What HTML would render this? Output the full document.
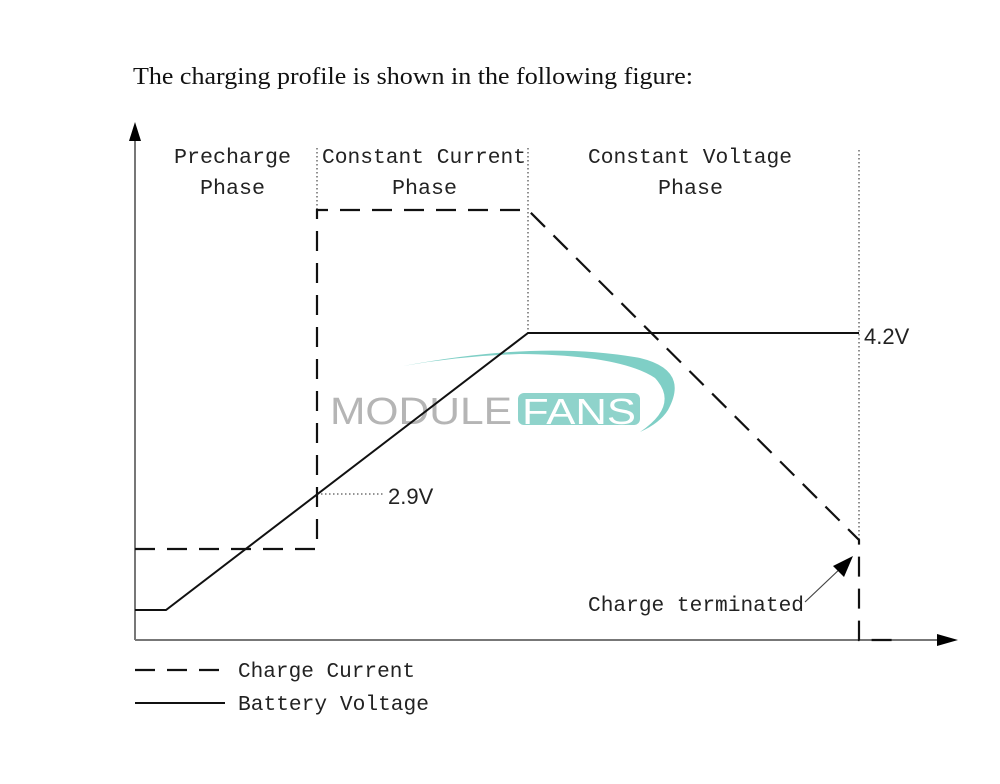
<!DOCTYPE html>
<html><head><meta charset="utf-8"><style>
html,body{margin:0;padding:0;background:#fff;}
svg{display:block;}
.m{font-family:"Liberation Mono",monospace;font-size:21px;fill:#222;}
.s{font-family:"Liberation Sans",sans-serif;font-size:22px;fill:#222;}
</style></head><body>
<svg width="1000" height="784" viewBox="0 0 1000 784" xmlns="http://www.w3.org/2000/svg">
<text x="133" y="84" font-family="Liberation Serif,serif" font-size="24" fill="#111" textLength="560" lengthAdjust="spacingAndGlyphs">The charging profile is shown in the following figure:</text>
<!-- axes -->
<line x1="135" y1="640" x2="135" y2="138" stroke="#777" stroke-width="2"/>
<polygon points="135,122 129,141 141,141" fill="#000"/>
<line x1="135" y1="640" x2="940" y2="640" stroke="#777" stroke-width="2"/>
<polygon points="958,640 937,634 937,646" fill="#000"/>
<!-- dotted verticals -->
<g stroke="#555" stroke-width="1.3" stroke-dasharray="1.5,2.5">
<line x1="317" y1="148" x2="317" y2="210"/>
<line x1="528" y1="148" x2="528" y2="333"/>
<line x1="859" y1="150" x2="859" y2="545"/>
<line x1="317" y1="494" x2="383" y2="494"/>
</g>
<!-- watermark -->
<path d="M403,366 Q540,340 640,358 Q690,370 668,410 Q660,423 640,432 Q680,405 655,378 Q620,355 520,354 Q460,356 403,366Z" fill="#7fcfc6"/>
<rect x="518" y="393" width="122" height="32" rx="6" fill="#8fd3cb"/>
<text x="330" y="424" font-family="Liberation Sans,sans-serif" font-size="38" fill="#b5b5b5" textLength="182" lengthAdjust="spacingAndGlyphs">MODULE</text>
<text x="522" y="424" font-family="Liberation Sans,sans-serif" font-size="36" fill="#fff" textLength="114" lengthAdjust="spacingAndGlyphs">FANS</text>
<!-- charge current -->
<path d="M135,549 L317,549 L317,210 L528,210 L859,540 L859,640 L900,640" fill="none" stroke="#111" stroke-width="2.2" stroke-dasharray="20,12"/>
<!-- battery voltage -->
<path d="M135,610 L166,610 L528,333 L859,333" fill="none" stroke="#111" stroke-width="2"/>
<!-- labels -->
<text class="m" x="174" y="163" textLength="117" lengthAdjust="spacingAndGlyphs">Precharge</text>
<text class="m" x="200" y="194" textLength="65" lengthAdjust="spacingAndGlyphs">Phase</text>
<text class="m" x="322" y="163" textLength="204" lengthAdjust="spacingAndGlyphs">Constant Current</text>
<text class="m" x="392" y="194" textLength="65" lengthAdjust="spacingAndGlyphs">Phase</text>
<text class="m" x="588" y="163" textLength="204" lengthAdjust="spacingAndGlyphs">Constant Voltage</text>
<text class="m" x="658" y="194" textLength="65" lengthAdjust="spacingAndGlyphs">Phase</text>
<text class="s" x="864" y="344">4.2V</text>
<text class="s" x="388" y="504">2.9V</text>
<text class="m" x="588" y="611" textLength="216" lengthAdjust="spacingAndGlyphs">Charge terminated</text>
<line x1="805" y1="602" x2="843" y2="566" stroke="#444" stroke-width="1.2"/>
<polygon points="853,556 833,566 844,577" fill="#000"/>
<!-- legend -->
<line x1="135" y1="670" x2="225" y2="670" stroke="#111" stroke-width="2.2" stroke-dasharray="20,12"/>
<text class="m" x="238" y="677" textLength="177" lengthAdjust="spacingAndGlyphs">Charge Current</text>
<line x1="135" y1="703" x2="225" y2="703" stroke="#111" stroke-width="2"/>
<text class="m" x="238" y="710" textLength="191" lengthAdjust="spacingAndGlyphs">Battery Voltage</text>
</svg>
</body></html>
